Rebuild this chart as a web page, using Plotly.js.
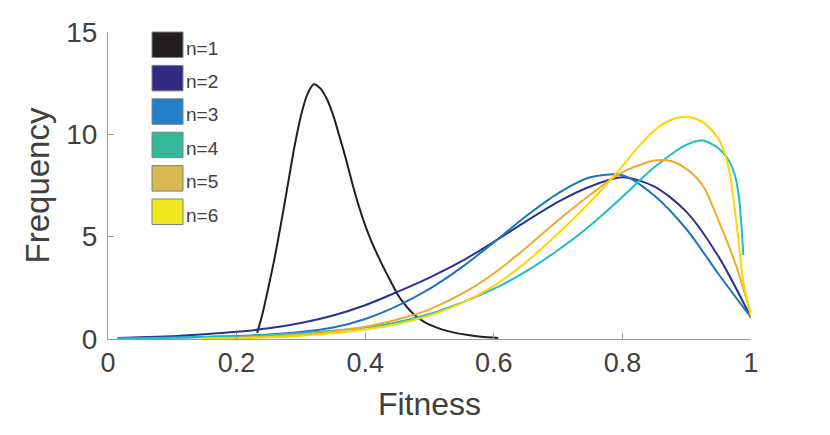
<!DOCTYPE html>
<html>
<head>
<meta charset="utf-8">
<script src="https://cdn.plot.ly/plotly-3.0.1.min.js"></script>
<style>html,body{margin:0;padding:0;background:#fff;}#chart{width:830px;height:435px;}</style>
</head>
<body>
<div id="chart"></div>
<script>
// ---- data ----
var seriesNames = ["n=1", "n=2", "n=3", "n=4", "n=5", "n=6"];
var lineColors  = ["#231f20", "#2e3192", "#1c75bc", "#1fbfbf", "#eeaa2b", "#ffd400"];
var patchColors = ["#231f20", "#332a86", "#2280c8", "#33b89a", "#d8b850", "#f2e822"];

var x1 = [0.232,0.24,0.25,0.26,0.27,0.28,0.29,0.30,0.31,0.32,0.33,0.34,0.35,0.36,0.37,0.38,0.39,0.40,0.41,0.42,0.43,0.44,0.45,0.46,0.47,0.48,0.49,0.50,0.52,0.54,0.56,0.58,0.607];
var y1 = [0.3,1.2,2.6,4.1,5.8,7.6,9.4,10.9,11.95,12.45,12.25,11.75,10.95,9.9,8.8,7.6,6.5,5.55,4.75,4.05,3.4,2.8,2.2,1.75,1.38,1.09,0.87,0.7,0.46,0.3,0.19,0.11,0.05];

var x2 = [0.015,0.05,0.10,0.15,0.20,0.25,0.30,0.35,0.40,0.45,0.50,0.55,0.60,0.65,0.70,0.75,0.80,0.85,0.90,0.95,1.0];
var y2 = [0.05,0.08,0.14,0.23,0.35,0.52,0.78,1.15,1.65,2.3,3.0,3.8,4.75,5.75,6.7,7.45,7.9,7.45,6.2,4.0,1.05];

var x3 = [0.015,0.05,0.10,0.15,0.20,0.25,0.30,0.35,0.40,0.45,0.50,0.55,0.60,0.65,0.70,0.75,0.80,0.85,0.90,0.95,1.0];
var y3 = [0.03,0.05,0.07,0.1,0.15,0.22,0.34,0.56,0.98,1.62,2.45,3.5,4.72,6.0,7.12,7.9,8.0,7.0,5.35,3.15,1.05];

var x4 = [0.015,0.05,0.10,0.15,0.20,0.25,0.30,0.35,0.40,0.45,0.50,0.55,0.60,0.65,0.70,0.75,0.80,0.85,0.90,0.925,0.95,0.965,0.975,0.981,0.985,0.988];
var y4 = [0.02,0.04,0.06,0.1,0.14,0.2,0.28,0.4,0.56,0.82,1.22,1.78,2.45,3.3,4.35,5.55,6.95,8.4,9.5,9.7,9.3,8.75,8.0,7.0,5.6,4.1];

var x5 = [0.146,0.20,0.25,0.30,0.35,0.40,0.45,0.50,0.55,0.60,0.65,0.70,0.75,0.80,0.85,0.875,0.90,0.925,0.95,0.975,1.0];
var y5 = [0.02,0.06,0.12,0.22,0.37,0.6,0.95,1.45,2.2,3.2,4.45,5.8,7.05,8.15,8.72,8.7,8.3,7.5,5.75,3.75,1.2];

var x6 = [0.146,0.20,0.25,0.30,0.35,0.40,0.45,0.50,0.55,0.60,0.65,0.70,0.75,0.775,0.80,0.825,0.85,0.875,0.90,0.925,0.95,0.965,0.978,0.988,1.0];
var y6 = [0.01,0.04,0.08,0.16,0.28,0.46,0.73,1.15,1.75,2.6,3.75,5.15,6.7,7.55,8.45,9.4,10.2,10.7,10.86,10.6,9.75,8.4,5.5,2.8,1.1];

var xTickVals = [0, 0.2, 0.4, 0.6, 0.8, 1];
var yTickVals = [0, 5, 10, 15];

var xs = [x1, x2, x3, x4, x5, x6];
var ys = [y1, y2, y3, y4, y5, y6];

var traces = [];
for (var i = 0; i < xs.length; i++) {
  traces.push({
    x: xs[i], y: ys[i], type: 'scatter', mode: 'lines', name: seriesNames[i],
    line: {color: lineColors[i], width: 2, shape: 'spline', smoothing: 0.8},
    showlegend: false, hoverinfo: 'skip'
  });
}

// custom MATLAB-style legend (patches + labels) in paper coordinates
var W = 643, H = 307;
var shapes = [], annotations = [];
for (var k = 0; k < seriesNames.length; k++) {
  var pTop = 32 + k * 33.4, pBot = pTop + 25.5;
  shapes.push({
    type: 'rect', xref: 'paper', yref: 'paper',
    x0: (152 - 108) / W, x1: (183 - 108) / W,
    y0: (339 - pBot) / H, y1: (339 - pTop) / H,
    fillcolor: patchColors[k], line: {color: '#808080', width: 1}
  });
  annotations.push({
    xref: 'paper', yref: 'paper', x: (184 - 108) / W, y: (339 - (pBot + 3)) / H,
    xanchor: 'left', yanchor: 'bottom', showarrow: false, text: seriesNames[k],
    font: {family: 'Liberation Sans, Arial, sans-serif', size: 19, color: '#404040'}
  });
}

var layout = {
  width: 830, height: 435,
  margin: {l: 108, r: 79, t: 32, b: 96},
  paper_bgcolor: '#ffffff', plot_bgcolor: '#ffffff',
  font: {family: 'Liberation Sans, Arial, sans-serif', color: '#404040'},
  xaxis: {
    range: [0, 1], tickvals: xTickVals, ticks: 'inside', ticklen: 6, tickcolor: '#9a9a9a',
    showline: true, linecolor: '#9a9a9a', linewidth: 1, showgrid: false, zeroline: false,
    tickfont: {size: 27, color: '#404040'},
    title: {text: 'Fitness', font: {size: 32, color: '#404040'}, standoff: 15}
  },
  yaxis: {
    range: [0, 15], tickvals: yTickVals, ticks: 'inside', ticklen: 6, tickcolor: '#9a9a9a',
    showline: true, linecolor: '#9a9a9a', linewidth: 1, showgrid: false, zeroline: false,
    tickfont: {size: 28, color: '#404040'}, ticklabelstandoff: 4,
    title: {text: 'Frequency', font: {size: 33, color: '#404040'}, standoff: 6}
  },
  shapes: shapes,
  annotations: annotations,
  showlegend: false
};

Plotly.newPlot('chart', traces, layout, {displayModeBar: false, staticPlot: true});
</script>
</body>
</html>
